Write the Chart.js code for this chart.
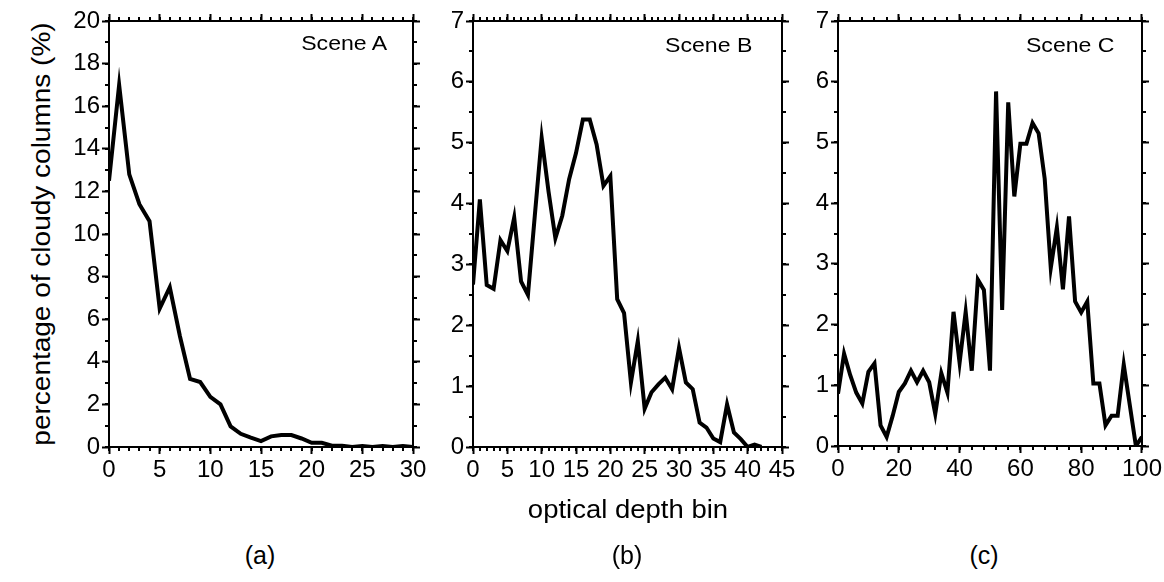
<!DOCTYPE html>
<html lang="en">
<head>
  <meta charset="UTF-8">
  <title>Cloudy columns per optical depth bin</title>
  <script src="https://cdn.jsdelivr.net/npm/chart.js@4"></script>
  <style>
    html, body { margin: 0; padding: 0; background: #fff; }
    body { width: 1164px; height: 582px; position: relative; overflow: hidden;
           font-family: "Liberation Sans", Arial, sans-serif; color: #000; }
    canvas { position: absolute; top: 0; }
    .lbl { position: absolute; white-space: nowrap; line-height: 1; }
  </style>
</head>
<body>

<canvas id="chartA" width="380" height="500" style="left:60px"></canvas>
<canvas id="chartB" width="370" height="500" style="left:440px"></canvas>
<canvas id="chartC" width="354" height="500" style="left:810px"></canvas>

<div class="lbl" style="left:41px;top:234px;font-size:25px;transform:translate(-50%,-50%) rotate(-90deg) scaleX(1.12)">percentage of cloudy columns (%)</div>
<div class="lbl" style="left:628px;top:509px;font-size:25px;transform:translate(-50%,-50%) scaleX(1.1)">optical depth bin</div>
<div class="lbl" style="left:260px;top:555px;font-size:25px;transform:translate(-50%,-50%)">(a)</div>
<div class="lbl" style="left:627px;top:555px;font-size:25px;transform:translate(-50%,-50%)">(b)</div>
<div class="lbl" style="left:984px;top:555px;font-size:25px;transform:translate(-50%,-50%)">(c)</div>
<div class="lbl" style="right:777px;top:32px;font-size:21px;transform:scaleX(1.1);transform-origin:right center">Scene A</div>
<div class="lbl" style="right:412px;top:34px;font-size:21px;transform:scaleX(1.1);transform-origin:right center">Scene B</div>
<div class="lbl" style="right:49px;top:34px;font-size:21px;transform:scaleX(1.1);transform-origin:right center">Scene C</div>

<script>
  // optical depth bins and percentages
  const binsA = [0, 1, 2, 3, 4, 5, 6, 7, 8, 9, 10, 11, 12, 13, 14, 15, 16, 17, 18, 19, 20,
                 21, 22, 23, 24, 25, 26, 27, 28, 29, 30];
  const sceneA = [12.5, 17.0, 12.8, 11.4, 10.6, 6.5, 7.5, 5.2, 3.2, 3.05, 2.35, 2.0, 0.97, 0.62,
                  0.44, 0.28, 0.5, 0.56, 0.56, 0.4, 0.2, 0.2, 0.06, 0.06, 0, 0.05, 0, 0.05, 0, 0.05, 0];

  const binsB = [0, 1, 2, 3, 4, 5, 6, 7, 8, 9, 10, 11, 12, 13, 14, 15, 16, 17, 18, 19, 20,
                 21, 22, 23, 24, 25, 26, 27, 28, 29, 30, 31, 32, 33, 34, 35, 36, 37, 38, 39, 40, 41, 42];
  const sceneB = [2.67, 4.07, 2.66, 2.6, 3.4, 3.22, 3.77, 2.72, 2.5, 3.8, 5.08, 4.2, 3.43, 3.8,
                  4.4, 4.83, 5.38, 5.38, 4.97, 4.29, 4.45, 2.43, 2.2, 1.06, 1.74, 0.63, 0.9, 1.03,
                  1.14, 0.95, 1.63, 1.06, 0.95, 0.4, 0.32, 0.14, 0.08, 0.7, 0.24, 0.13, 0, 0.04, 0];

  const binsC = [0, 2, 4, 6, 8, 10, 12, 14, 16, 18, 20, 22, 24, 26, 28, 30, 32, 34, 36, 38, 40,
                 42, 44, 46, 48, 50, 52, 54, 56, 58, 60, 62, 64, 66, 68, 70, 72, 74, 76, 78, 80,
                 82, 84, 86, 88, 90, 92, 94, 96, 98, 100];
  const sceneC = [0.86, 1.52, 1.17, 0.88, 0.7, 1.22, 1.36, 0.34, 0.15, 0.5, 0.89, 1.03, 1.24,
                  1.05, 1.24, 1.05, 0.53, 1.2, 0.88, 2.21, 1.37, 2.21, 1.24, 2.74, 2.57, 1.24,
                  5.84, 2.24, 5.66, 4.11, 4.98, 4.98, 5.32, 5.15, 4.4, 2.93, 3.6, 2.58, 3.78,
                  2.38, 2.2, 2.38, 1.03, 1.03, 0.34, 0.5, 0.5, 1.34, 0.67, 0, 0.15];

  const tickFont = { family: '"Liberation Sans", Arial, sans-serif', size: 24 };
  Chart.defaults.color = '#000';

  // short minor ticks on all four sides, placed through each scale
  const minorTicks = {
    id: 'minorTicks',
    afterDraw(chart, args, opts) {
      const ctx = chart.ctx;
      ctx.save();
      ctx.strokeStyle = '#000';
      ctx.lineWidth = 2;
      for (const s of Object.values(chart.scales)) {
        const step = s.axis === 'x' ? opts.x : opts.y;
        const n = Math.round((s.max - s.min) / step);
        for (let i = 0; i <= n; i++) {
          const p = Math.round(s.getPixelForValue(s.min + i * step));
          ctx.beginPath();
          if (s.position === 'bottom') { ctx.moveTo(p, s.top); ctx.lineTo(p, s.top + 4); }
          if (s.position === 'top') { ctx.moveTo(p, s.bottom); ctx.lineTo(p, s.bottom - 4); }
          if (s.position === 'left') { ctx.moveTo(s.right, p); ctx.lineTo(s.right - 4, p); }
          if (s.position === 'right') { ctx.moveTo(s.left, p); ctx.lineTo(s.left + 4, p); }
          ctx.stroke();
        }
      }
      ctx.restore();
    }
  };

  function axis(position, min, max, step, labels, size) {
    const horiz = position === 'top' || position === 'bottom';
    return {
      type: 'linear',
      position: position,
      min: min,
      max: max,
      ticks: { stepSize: step, display: labels, padding: 2, maxRotation: 0, autoSkip: false,
               font: tickFont, color: '#000' },
      grid: { drawOnChartArea: false, tickLength: 7, tickWidth: 2, tickColor: '#000' },
      border: { color: '#000', width: 2 },
      afterFit: horiz ? s => { s.height = size } : s => { s.width = size }
    };
  }

  function createChart(el, bins, values, o) {
    new Chart(el, {
      type: 'line',
      data: {
        datasets: [{
          data: bins.map((b, i) => ({ x: b, y: values[i] })),
          borderColor: '#000',
          borderWidth: 4,
          borderJoinStyle: 'miter',
          pointRadius: 0,
          tension: 0,
          fill: false
        }]
      },
      options: {
        responsive: false,
        animation: false,
        events: [],
        layout: { padding: 0 },
        plugins: {
          legend: { display: false },
          tooltip: { enabled: false },
          minorTicks: { x: o.xMinor, y: o.yMinor }
        },
        scales: {
          x: axis('bottom', 0, o.xMax, o.xMajor, true, o.bottom),
          x2: axis('top', 0, o.xMax, o.xMajor, false, o.top),
          y: axis('left', 0, o.yMax, o.yMajor, true, o.left),
          y2: axis('right', 0, o.yMax, o.yMajor, false, o.right)
        }
      },
      plugins: [minorTicks]
    });
  }

  createChart(document.getElementById('chartA'), binsA, sceneA,
    { xMax: 30, xMajor: 5, xMinor: 1, yMax: 20, yMajor: 2, yMinor: 1, left: 49, right: 27, top: 21, bottom: 53 });
  createChart(document.getElementById('chartB'), binsB, sceneB,
    { xMax: 45, xMajor: 5, xMinor: 1, yMax: 7, yMajor: 1, yMinor: 0.5, left: 33, right: 28, top: 21, bottom: 53 });
  createChart(document.getElementById('chartC'), binsC, sceneC,
    { xMax: 100, xMajor: 20, xMinor: 4, yMax: 7, yMajor: 1, yMinor: 0.5, left: 28, right: 20, top: 21, bottom: 54 });
</script>
</body>
</html>
